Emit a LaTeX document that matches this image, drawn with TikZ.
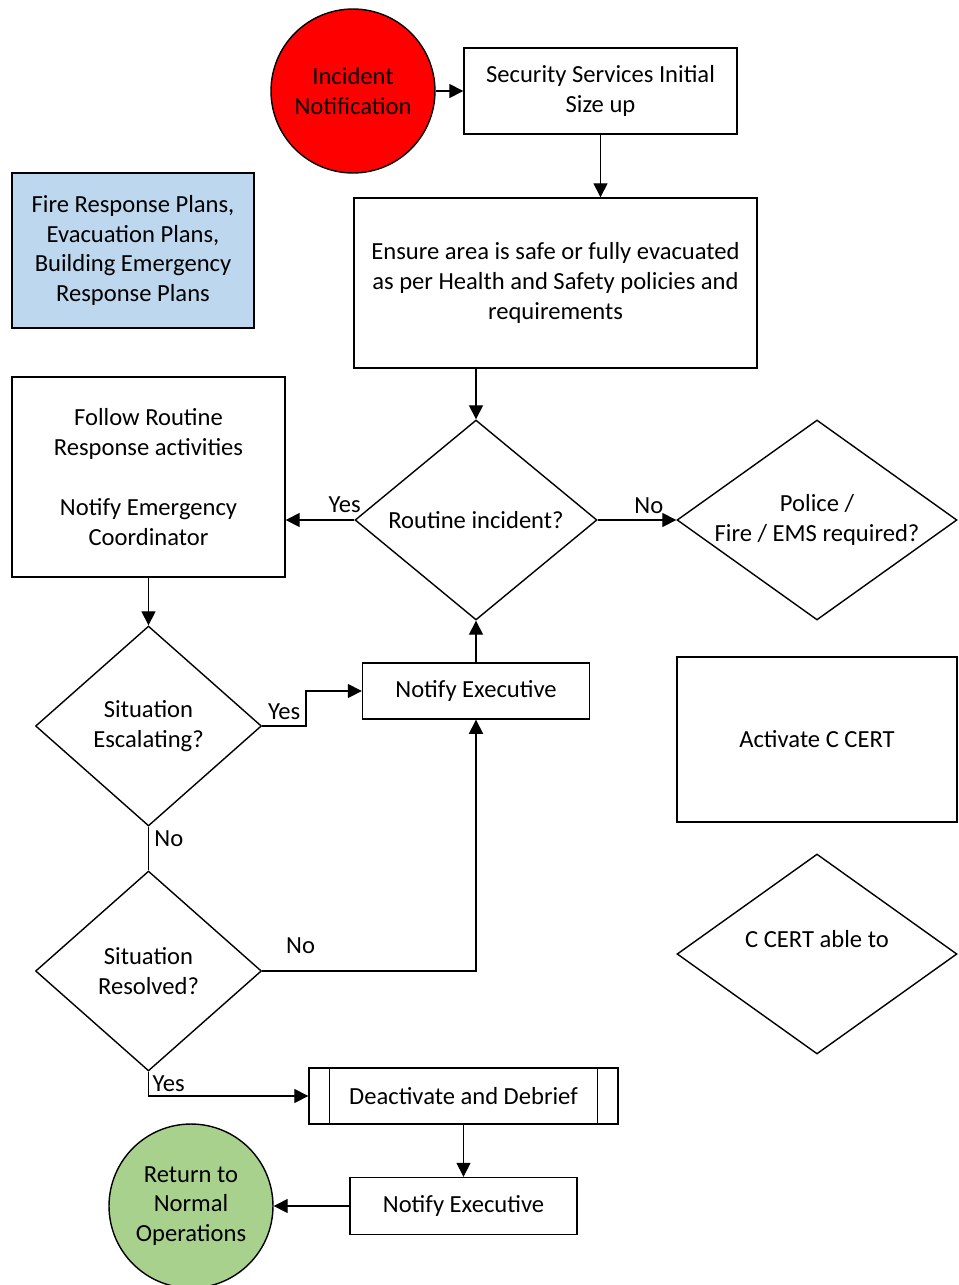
\documentclass[tikz,border=0pt]{standalone}
\usepackage{fontspec}
\setmainfont{Carlito}
\usetikzlibrary{arrows.meta, positioning, shapes.geometric}
\definecolor{AlarmRed}{HTML}{FF0000}
\definecolor{PlanBlue}{HTML}{BDD7EE}
\definecolor{CalmGreen}{HTML}{A9D18E}

\begin{document}
\begin{tikzpicture}[x=0.02cm, y=-0.02cm, >={Triangle[length=8pt, width=8pt]},
  line width=0.8pt,
  every node/.style={font=\fontsize{14}{17}\selectfont},
  box/.style={draw, rectangle, align=center, inner sep=2pt},
  terminal/.style={draw, circle, align=center, minimum size=3.28cm, inner sep=0pt},
  decision/.style={draw, diamond, align=center, inner xsep=-1.5cm, inner ysep=0pt, minimum height=4cm}]
  \useasboundingbox (0,0) rectangle (959,1285);
  % Start and first steps
  \node[terminal, fill=AlarmRed] (incident) at (353,91) {Incident\\Notification};
  \node[box, minimum width=5.46cm, minimum height=1.72cm] (sizeup) at (600.5,91) {Security Services Initial\\Size up};
  \node[box, minimum width=8.06cm, minimum height=3.4cm] (ensure) at (555.5,283) {Ensure area is safe or fully evacuated\\as per Health and Safety policies and\\requirements};
  \node[box, fill=PlanBlue, minimum width=4.84cm, minimum height=3.1cm] (plans) at (133,250.5) {Fire Response Plans,\\Evacuation Plans,\\Building Emergency\\Response Plans};
  % Routine branch
  \node[decision, minimum width=4.84cm] (routine) at (476,520) {Routine incident?};
  \node[box, minimum width=5.46cm, minimum height=4cm] (follow) at (148.5,477) {Follow Routine\\Response activities\\[17pt]Notify Emergency\\Coordinator};
  \node[decision, minimum width=5.6cm] (police) at (817,520) {Police /\\Fire / EMS required?};
  \node[decision, minimum width=4.52cm] (escalate) at (148.5,726) {Situation\\Escalating?};
  \node[box, minimum width=4.54cm, minimum height=1.12cm] (execA) at (476,691) {Notify Executive};
  \node[decision, minimum width=4.52cm] (resolved) at (148.5,971) {Situation\\Resolved?};
  % Right column
  \node[box, minimum width=5.6cm, minimum height=3.3cm] (activate) at (817,739.5) {Activate C CERT};
  \node[decision, minimum width=5.6cm] (ccert) at (817,954) {C CERT able to\\\mbox{}};
  % Closing steps
  \node[box, minimum width=6.18cm, minimum height=1.12cm] (debrief) at (463.5,1096) {Deactivate and Debrief};
  \draw ([xshift=0.42cm]debrief.north west) -- ([xshift=0.42cm]debrief.south west);
  \draw ([xshift=-0.42cm]debrief.north east) -- ([xshift=-0.42cm]debrief.south east);
  \node[box, minimum width=4.54cm, minimum height=1.14cm] (execB) at (463.5,1206) {Notify Executive};
  \node[terminal, fill=CalmGreen] (normal) at (191,1206) {Return to\\Normal\\Operations};
  % Connectors
  \draw[->] (incident) -- (sizeup);
  \draw[->] (sizeup.south) -- (sizeup.south |- ensure.north);
  \draw[->] (ensure.south -| routine) -- (routine.north);
  \draw[->] (routine.west) -- (routine.west -| follow.east) node[pos=0, above left, inner sep=1pt, xshift=5pt, yshift=3pt] {Yes};
  \draw[->] (routine.east) -- (police.west) node[pos=0.65, above] {No};
  \draw[->] (follow.south) -- (escalate.north);
  \draw[->] (escalate.east) -- ++(44,0) |- (execA.west);
  \node[above right, inner sep=3pt] at (escalate.east) {Yes};
  \draw[->] (execA.north) -- (routine.south);
  \draw (escalate.south) -- (resolved.north) node[pos=0.27, right, inner sep=3pt] {No};
  \draw[->] (resolved.east) -| (execA.south) node[pos=0.09, above=6pt] {No};
  \draw[->] (resolved.south) |- (debrief.west) node[pos=0, below right, inner sep=2pt] {Yes};
  \draw[->] (debrief.south) -- (debrief.south |- execB.north);
  \draw[->] (execB.west) -- (normal.east);
\end{tikzpicture}
\end{document}
